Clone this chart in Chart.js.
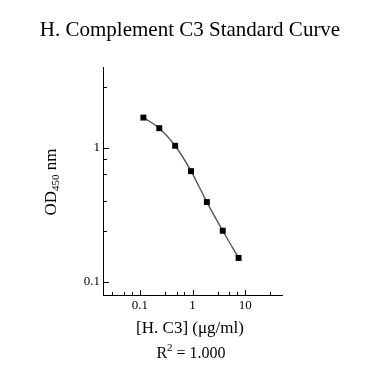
<!DOCTYPE html>
<html>
<head>
<meta charset="utf-8">
<script src="https://cdn.jsdelivr.net/npm/chart.js@4.4.1/dist/chart.umd.min.js"></script>
<style>
  html, body { margin: 0; padding: 0; background: #fff; }
  canvas { display: block; }
</style>
</head>
<body>
<canvas id="curve" width="373" height="370"></canvas>
<script>
// standard curve data
const concentrations = [0.117, 0.234, 0.469, 0.938, 1.875, 3.75, 7.5];
const odValues = [1.68, 1.40, 1.035, 0.67, 0.394, 0.241, 0.151];

// axis ticks
const xMajorTicks = [0.1, 1, 10];
const xMinorTicks = [0.03, 0.05, 0.07, 0.3, 0.5, 0.7, 3, 5, 7, 30];
const yMajorTicks = [0.1, 1];
const yMinorTicks = [0.24, 0.4, 0.64, 0.83, 2.85];

const serif = "'Liberation Serif', 'Times New Roman', serif";

// inward tick marks, like the Origin plot
const tickMarks = {
    id: 'tickMarks',
    afterDraw(chart) {
        const { ctx, chartArea, scales } = chart;
        ctx.save();
        ctx.strokeStyle = '#000';
        ctx.lineWidth = 1;
        ctx.beginPath();
        xMajorTicks.concat(xMinorTicks).forEach(v => {
            const px = Math.round(scales.x.getPixelForValue(v)) + 0.5;
            const len = xMajorTicks.includes(v) ? 5 : 3;
            ctx.moveTo(px, chartArea.bottom);
            ctx.lineTo(px, chartArea.bottom - len);
        });
        yMajorTicks.concat(yMinorTicks).forEach(v => {
            const py = Math.round(scales.y.getPixelForValue(v)) + 0.5;
            const len = yMajorTicks.includes(v) ? 6 : 4;
            ctx.moveTo(chartArea.left, py);
            ctx.lineTo(chartArea.left + len, py);
        });
        ctx.stroke();
        ctx.restore();
    }
};

// title, axis titles with sub/superscripts
const labels = {
    id: 'labels',
    afterDraw(chart) {
        const { ctx } = chart;
        ctx.save();
        ctx.fillStyle = '#000';
        ctx.textBaseline = 'alphabetic';

        ctx.font = `21px ${serif}`;
        ctx.textAlign = 'center';
        ctx.fillText('H. Complement C3 Standard Curve', 190, 36);

        ctx.font = `17px ${serif}`;
        ctx.fillText('[H. C3] (\u03bcg/ml)', 190, 333);

        // R^2 = 1.000
        ctx.textAlign = 'left';
        const r = 'R', rest = ' = 1.000';
        ctx.font = `16px ${serif}`;
        const wR = ctx.measureText(r).width;
        const wRest = ctx.measureText(rest).width;
        ctx.font = `11px ${serif}`;
        const w2 = ctx.measureText('2').width;
        let x = 191 - (wR + w2 + wRest) / 2;
        ctx.font = `16px ${serif}`;
        ctx.fillText(r, x, 358);
        ctx.font = `11px ${serif}`;
        ctx.fillText('2', x + wR, 351);
        ctx.font = `16px ${serif}`;
        ctx.fillText(rest, x + wR + w2, 358);

        // OD450 nm, rotated
        ctx.translate(56, 182);
        ctx.rotate(-Math.PI / 2);
        ctx.font = `17px ${serif}`;
        const wOD = ctx.measureText('OD').width;
        const wNm = ctx.measureText(' nm').width;
        ctx.font = `11px ${serif}`;
        const wSub = ctx.measureText('450').width;
        x = -(wOD + wSub + wNm) / 2;
        ctx.font = `17px ${serif}`;
        ctx.fillText('OD', x, 0);
        ctx.font = `11px ${serif}`;
        ctx.fillText('450', x + wOD, 3);
        ctx.font = `17px ${serif}`;
        ctx.fillText(' nm', x + wOD + wSub, 0);
        ctx.restore();
    }
};

const ctx = document.getElementById('curve').getContext('2d');

new Chart(ctx, {
    type: 'line',
    data: {
        datasets: [{
            data: concentrations.map((c, i) => ({ x: c, y: odValues[i] })),
            borderColor: '#555',
            borderWidth: 1.4,
            tension: 0.3,
            pointStyle: 'rect',
            pointRadius: 4.2,
            pointBackgroundColor: '#000',
            pointBorderColor: '#000',
            pointBorderWidth: 0
        }]
    },
    options: {
        responsive: false,
        animation: false,
        layout: { padding: { left: 63, right: 91, top: 67, bottom: 45 } },
        plugins: {
            legend: { display: false },
            tooltip: { enabled: false }
        },
        scales: {
            x: {
                type: 'logarithmic',
                min: 0.02,
                max: 50,
                grid: { display: false, drawTicks: false },
                border: { display: true, color: '#000', width: 1 },
                ticks: {
                    color: '#000',
                    font: { family: serif, size: 13 },
                    padding: 3,
                    autoSkip: false,
                    maxRotation: 0,
                    callback: v => xMajorTicks.includes(v) ? String(v) : ''
                },
                afterBuildTicks: s => { s.ticks = xMajorTicks.map(v => ({ value: v })); },
                afterFit: s => { s.height = 30; }
            },
            y: {
                type: 'logarithmic',
                min: 0.08,
                max: 4,
                grid: { display: false, drawTicks: false },
                border: { display: true, color: '#000', width: 1 },
                ticks: {
                    color: '#000',
                    font: { family: serif, size: 13 },
                    padding: 3,
                    autoSkip: false,
                    callback: v => yMajorTicks.includes(v) ? String(v) : ''
                },
                afterBuildTicks: s => { s.ticks = yMajorTicks.map(v => ({ value: v })); },
                afterFit: s => { s.width = 40; }
            }
        }
    },
    plugins: [tickMarks, labels]
});
</script>
</body>
</html>
